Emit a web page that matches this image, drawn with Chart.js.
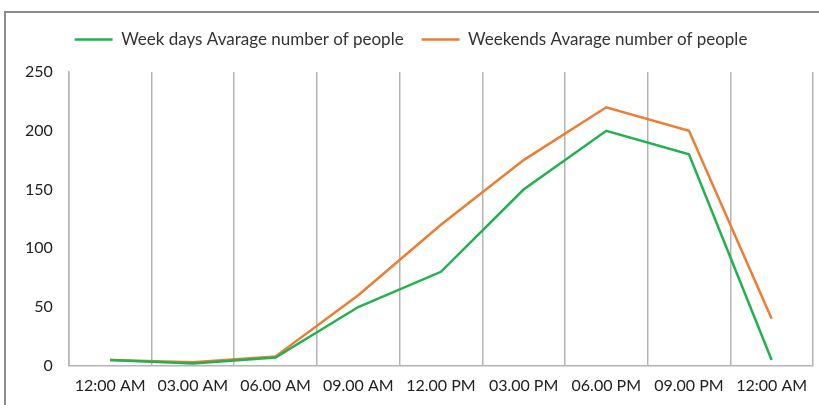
<!DOCTYPE html>
<html>
<head>
<meta charset="utf-8">
<script src="https://cdn.jsdelivr.net/npm/chart.js@4/dist/chart.umd.min.js"></script>
<style>
  html, body { margin: 0; padding: 0; background: #fff; }
  #wrap {
    position: absolute; left: 4px; top: 11px; width: 815px; height: 394px;
    border-top: 2px solid #8c8c8c; border-left: 2px solid #8c8c8c;
  }
  canvas { display: block; }
</style>
</head>
<body>
<div id="wrap"><canvas id="chart_here" width="815" height="394"></canvas></div>
<script>
'use strict';
// time slots and average people counts
var timeLabels = ['12:00 AM', '03.00 AM', '06.00 AM', '09.00 AM', '12.00 PM', '03.00 PM', '06.00 PM', '09.00 PM', '12:00 AM'];
var weekDays = [5, 2, 7, 50, 80, 150, 200, 180, 5];
var weekEnds = [5, 3, 8, 60, 120, 175, 220, 200, 40];
var yTicks = [0, 50, 100, 150, 200, 250];

var fontName = 'Lato, "Open Sans", sans-serif';

// push the plot down a bit under the legend
var legendGap = {
  id: 'legendGap',
  beforeInit: function(chart) {
    var origFit = chart.legend.fit;
    chart.legend.fit = function() {
      origFit.bind(chart.legend)();
      this.height += 14;
    };
  }
};

var ctx = document.getElementById('chart_here').getContext('2d');
var peopleChart = new Chart(ctx, {
  type: 'line',
  data: {
    labels: timeLabels,
    datasets: [
      {
        label: 'Week days Avarage number of people',
        data: weekDays,
        borderColor: '#21b14f',
        backgroundColor: '#21b14f',
        borderWidth: 2.5,
        pointRadius: 0,
        tension: 0
      },
      {
        label: 'Weekends Avarage number of people',
        data: weekEnds,
        borderColor: '#ed7d31',
        backgroundColor: '#ed7d31',
        borderWidth: 2.5,
        pointRadius: 0,
        tension: 0
      }
    ]
  },
  options: {
    responsive: false,
    animation: false,
    layout: { padding: { left: 3, right: 8, top: 0, bottom: 2 } },
    plugins: {
      legend: {
        position: 'top',
        labels: {
          usePointStyle: true,
          pointStyle: 'line',
          pointStyleWidth: 38,
          color: '#333',
          padding: 18,
          font: { family: fontName, size: 17 }
        }
      },
      tooltip: { enabled: false }
    },
    scales: {
      x: {
        offset: true,
        grid: {
          offset: true,
          display: true,
          color: '#b4b4b4',
          lineWidth: 1.5,
          drawTicks: false
        },
        border: { display: true, color: '#b4b4b4', width: 1.5 },
        ticks: {
          color: '#222',
          padding: 10,
          maxRotation: 0,
          autoSkip: false,
          font: { family: fontName, size: 16 }
        }
      },
      y: {
        min: 0,
        max: 250,
        afterBuildTicks: function(axis) {
          axis.ticks = yTicks.map(function(v) { return { value: v }; });
        },
        grid: { display: false, drawTicks: false },
        border: { display: true, color: '#b4b4b4', width: 1.5 },
        ticks: {
          color: '#222',
          padding: 16,
          font: { family: fontName, size: 16 }
        }
      }
    }
  },
  plugins: [legendGap]
});
</script>
</body>
</html>
